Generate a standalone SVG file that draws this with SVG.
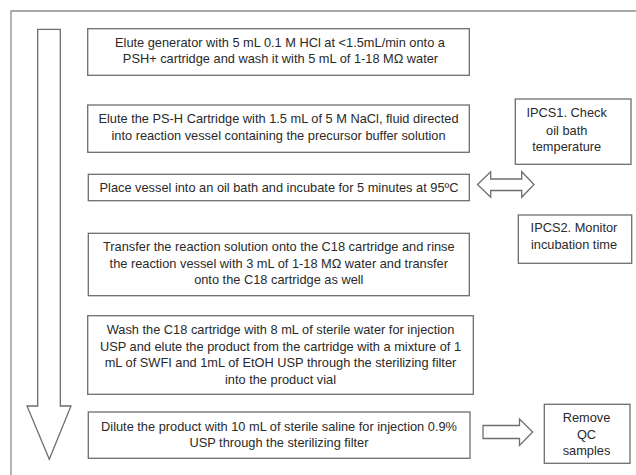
<svg xmlns="http://www.w3.org/2000/svg" width="636" height="475" viewBox="0 0 636 475">
<style>
.box{fill:#fff;stroke:#6e6e6e;stroke-width:1.3}
.arr{fill:#fff;stroke:#6e6e6e;stroke-width:1.3;stroke-linejoin:miter}
.frame{fill:none;stroke:#8c8c8c;stroke-width:1.3}
text{font-family:"Liberation Sans",Arial,sans-serif;font-size:12.8px;fill:#2a2a2a;text-anchor:middle}
</style>
<rect width="636" height="475" fill="#fff"/>
<path class="frame" d="M636 11 H11 V475"/>
<g id="connectors">
<path class="arr" d="M37.7 29.3 H60.3 V406 H71 L49.3 459.3 L27 406 H37.7 Z"/>
<path class="arr" d="M477.5 184.5 L490.7 171.7 V179 H521.7 V171.7 L534 184.5 L521.7 197.3 V190.5 H490.7 V197.3 Z"/>
<path class="arr" d="M483 425.5 H519.5 V419 L532.7 432 L519.5 445.5 V438.5 H483 Z"/>
</g>
<g id="n1">
<rect class="box" x="87.7" y="28.7" width="381.6" height="46.6"/>
<text x="280" y="46.7">Elute generator with 5 mL 0.1 M HCl at &lt;1.5mL/min onto a</text>
<text x="280.5" y="63.4">PSH+ cartridge and wash it with 5 mL of 1-18 MΩ water</text>
</g>
<g id="n2">
<rect class="box" x="87.7" y="105" width="381.6" height="47.3"/>
<text x="278.5" y="123.3">Elute the PS-H Cartridge with 1.5 mL of 5 M NaCl, fluid directed</text>
<text x="278.5" y="140">into reaction vessel containing the precursor buffer solution</text>
</g>
<g id="n3">
<rect class="box" x="88.3" y="174.3" width="381" height="26.4"/>
<text x="279" y="192.2">Place vessel into an oil bath and incubate for 5 minutes at 95ºC</text>
</g>
<g id="n4">
<rect class="box" x="88.3" y="233.3" width="381" height="62.4"/>
<text x="278.8" y="251.2">Transfer the reaction solution onto the C18 cartridge and rinse</text>
<text x="278.8" y="267.9">the reaction vessel with 3 mL of 1-18 MΩ water and transfer</text>
<text x="278.8" y="284.2">onto the C18 cartridge as well</text>
</g>
<g id="n5">
<rect class="box" x="87.7" y="315.7" width="385.6" height="78.6"/>
<text x="280.5" y="333.8">Wash the C18 cartridge with 8 mL of sterile water for injection</text>
<text x="280.5" y="350.5">USP and elute the product from the cartridge with a mixture of 1</text>
<text x="280.5" y="367.2">mL of SWFI and 1mL of EtOH USP through the sterilizing filter</text>
<text x="280.5" y="383.9">into the product vial</text>
</g>
<g id="n6">
<rect class="box" x="88.3" y="412" width="381.7" height="46.3"/>
<text x="279" y="430.5">Dilute the product with 10 mL of sterile saline for injection 0.9%</text>
<text x="279" y="447.2">USP through the sterilizing filter</text>
</g>
<g id="ipcs1">
<rect class="box" x="515.3" y="99" width="115.7" height="65.3"/>
<text x="566.7" y="116.8">IPCS1. Check</text>
<text x="566.7" y="134.5">oil bath</text>
<text x="566.7" y="151.2">temperature</text>
</g>
<g id="ipcs2">
<rect class="box" x="518.3" y="215" width="113.4" height="48.3"/>
<text x="574" y="231.8">IPCS2. Monitor</text>
<text x="574" y="248.5">incubation time</text>
</g>
<g id="qc">
<rect class="box" x="544.3" y="404.3" width="85.7" height="59"/>
<text x="586.5" y="421.8">Remove</text>
<text x="586.5" y="438.5">QC</text>
<text x="586.5" y="455.2">samples</text>
</g>
</svg>
